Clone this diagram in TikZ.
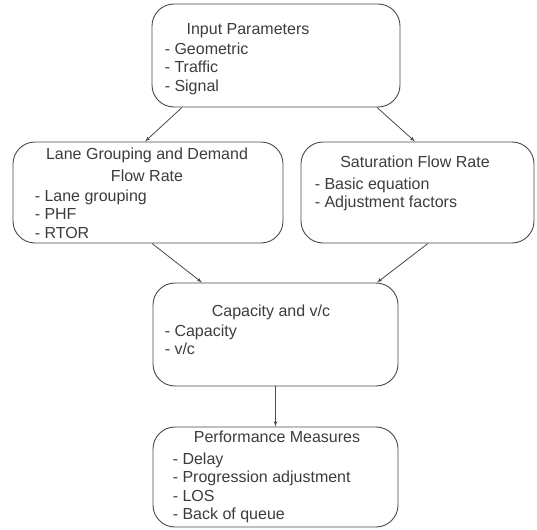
\documentclass[tikz,border=0pt]{standalone}
\usepackage{fontspec}
\setmainfont{Liberation Sans}
\usetikzlibrary{arrows, positioning, calc}

\definecolor{inkgray}{HTML}{3C3C3C}
\definecolor{edgegray}{HTML}{4A4A4A}

\begin{document}
\begin{tikzpicture}[
        x=1pt, y=1pt,
        >=latex',
        box/.style={rectangle, draw=edgegray, line width=0.9pt, rounded corners=22pt, inner sep=0pt},
        head/.style={anchor=base, inner sep=0pt, text=inkgray, font=\fontsize{16}{21.5}\selectfont, align=center},
        items/.style={anchor=base west, inner sep=0pt, text=inkgray, font=\fontsize{16}{18.3}\selectfont, align=left},
        line/.style={draw=edgegray, line width=0.8pt, -latex'}
    ]
        \useasboundingbox (0,0) rectangle (537,-529);

        % Boxes
        \node [box, minimum width=248pt, minimum height=103pt] (inp) at (276,-55.5) {};
        \node [box, minimum width=270pt, minimum height=101pt] (lane) at (148,-192.5) {};
        \node [box, minimum width=233pt, minimum height=101pt] (sat) at (417.5,-192.5) {};
        \node [box, minimum width=245pt, minimum height=103pt] (cap) at (275.5,-334.5) {};
        \node [box, minimum width=245pt, minimum height=100pt] (perf) at (275.5,-477) {};

        % Texts (base = last line)
        \node [head] (inp_head) at ([xshift=-28pt, yshift=-31pt]inp.north) {Input Parameters};
        \node [items] (inp_items) at ([xshift=13pt, yshift=-87.6pt]inp.north west) {- Geometric\\- Traffic\\- Signal};

        \node [head] (lane_head) at ([xshift=-1pt, yshift=-39.5pt]lane.north) {Lane Grouping and Demand\\Flow Rate};
        \node [items] (lane_items) at ([xshift=22pt, yshift=-96.5pt]lane.north west) {- Lane grouping\\- PHF\\- RTOR};

        \node [head] (sat_head) at ([xshift=-2.5pt, yshift=-25.7pt]sat.north) {Saturation Flow Rate};
        \node [items] (sat_items) at ([xshift=14pt, yshift=-66pt]sat.north west) {- Basic equation\\- Adjustment factors};

        \node [head] (cap_head) at ([xshift=-4.5pt, yshift=-33.7pt]cap.north) {Capacity and v/c};
        \node [items] (cap_items) at ([xshift=12pt, yshift=-72pt]cap.north west) {- Capacity\\- v/c};

        \node [head] (perf_head) at ([xshift=1.5pt, yshift=-16pt]perf.north) {Performance Measures};
        \node [items] (perf_items) at ([xshift=20pt, yshift=-93pt]perf.north west) {- Delay\\- Progression adjustment\\- LOS\\- Back of queue};

        % Paths
        \path [line] ([xshift=-94pt]inp.south) -- ([xshift=-3pt]lane.north);
        \path [line] ([xshift=101pt]inp.south) -- ([xshift=-2.5pt]sat.north);
        \path [line] ([xshift=4pt]lane.south) -- ([xshift=-73.5pt]cap.north);
        \path [line] ([xshift=10.5pt]sat.south) -- ([xshift=101.5pt]cap.north);
        \path [line] (cap.south) -- (perf.north);

    \end{tikzpicture}
\end{document}
